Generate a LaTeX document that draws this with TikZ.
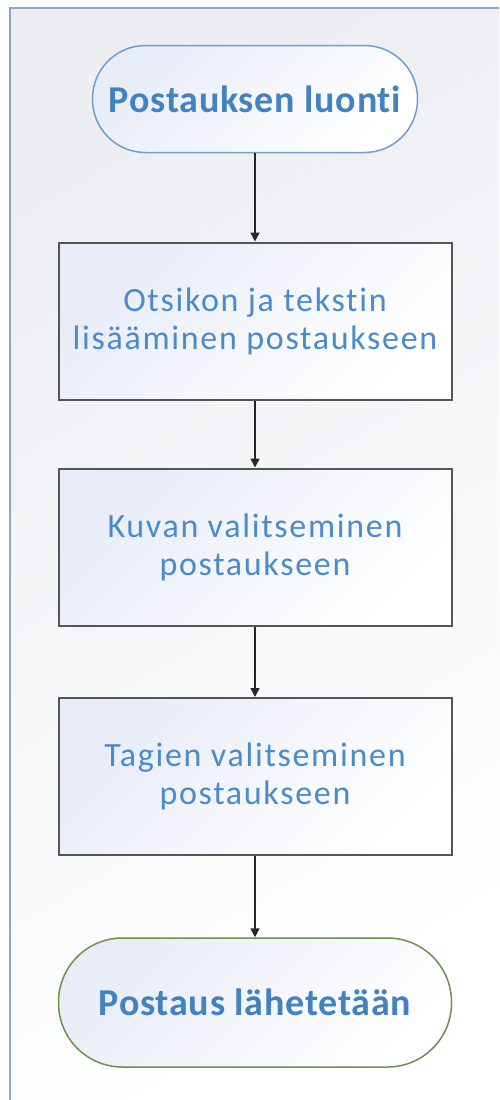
\documentclass[tikz,border=0pt]{standalone}
\usepackage{fontspec}
\setmainfont{Carlito}
\newfontfamily\boxfont[LetterSpace=5,Ligatures=NoCommon]{Carlito}
\newfontfamily\termfont[LetterSpace=2,Ligatures=NoCommon]{Carlito}
\usetikzlibrary{arrows.meta}
\definecolor{txtblue}{HTML}{4A8BCA}
\definecolor{termblue}{HTML}{4281C2}
\definecolor{startline}{HTML}{6C9FD0}
\definecolor{endline}{HTML}{6F8F50}
\definecolor{boxline}{HTML}{555555}
\definecolor{shadeA}{HTML}{E8ECF7}
\definecolor{bgA}{HTML}{ECEEF2}
\definecolor{frameline}{HTML}{8BA6C8}
\begin{document}
\begin{tikzpicture}[x=1pt,y=-1pt,
  proc/.style={shape=rectangle,draw=boxline,line width=2pt,top color=shadeA,bottom color=white,shading angle=45,
    minimum width=393pt,minimum height=157pt,align=center,text=txtblue,font=\boxfont\fontsize{34}{38}\selectfont},
  term/.style={shape=rectangle,line width=1.5pt,top color=shadeA,bottom color=white,shading angle=45,
    align=center,text=termblue,font=\termfont\fontsize{38}{42}\selectfont\bfseries},
  flow/.style={-{Triangle[length=9pt,width=9pt]},line width=1.5pt,draw=black!85}]
 \useasboundingbox (0,0) rectangle (499,1100);
 \fill[top color=bgA,bottom color=white,shading angle=30] (10,8) rectangle (499,1100);
 \draw[frameline,line width=2pt] (499,8) -- (10,8) -- (10,1100);
 \node (term 1) at (255,99) [term,draw=startline,minimum width=325pt,minimum height=107pt,rounded corners=53pt] {Postauksen luonti};
 \node (box 1) at (255,321) [proc] {Otsikon ja tekstin\\lisääminen postaukseen};
 \node (box 2) at (255,547) [proc] {Kuvan valitseminen\\postaukseen};
 \node (box 3) at (255,776.5) [proc] {Tagien valitseminen\\postaukseen};
 \node (term 2) at (255,1002.5) [term,draw=endline,minimum width=393pt,minimum height=129pt,rounded corners=64pt] {Postaus lähetetään};
 \draw[flow] (term 1) -- (box 1);
 \draw[flow] (box 1) -- (box 2);
 \draw[flow] (box 2) -- (box 3);
 \draw[flow] (box 3) -- (term 2);
\end{tikzpicture}
\end{document}
